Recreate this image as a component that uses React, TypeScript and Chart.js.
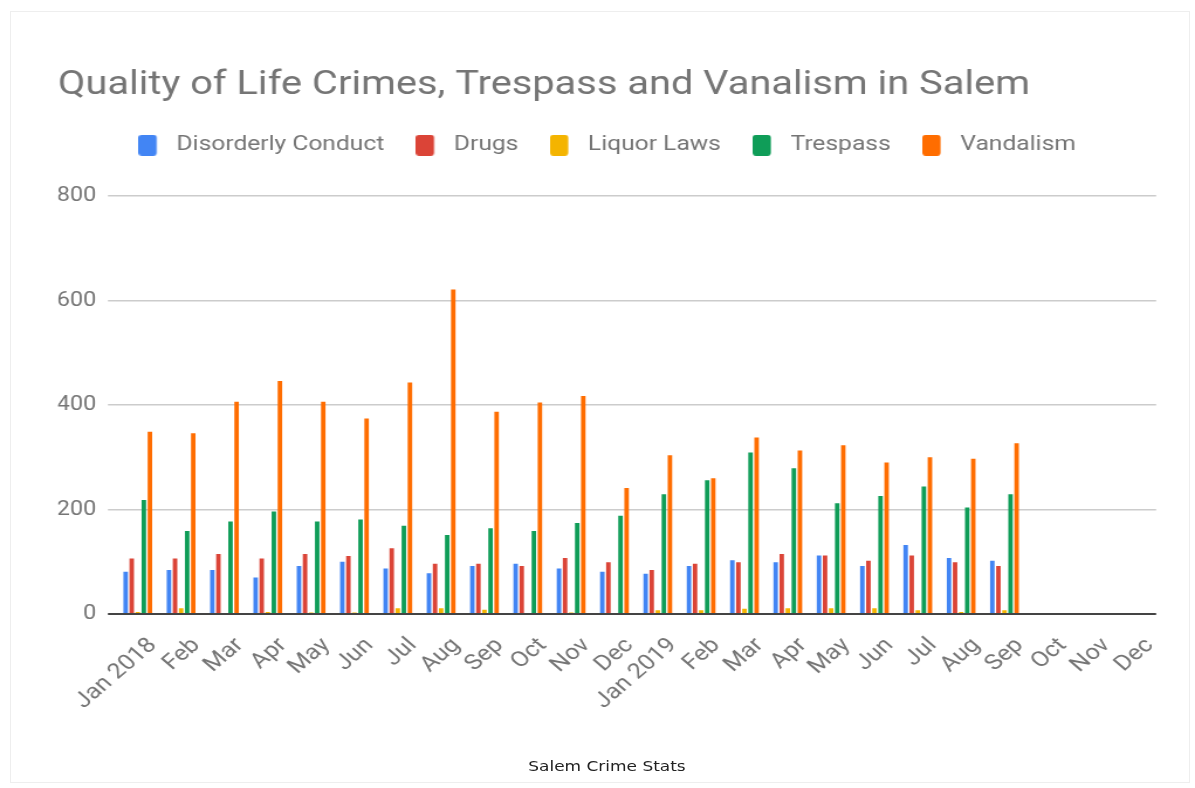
import { useEffect, useRef } from 'react';
import { Chart, registerables } from 'chart.js';

Chart.register(...registerables);

// ---------- data ----------
const categories = [
  'Jan 2018', 'Feb', 'Mar', 'Apr', 'May', 'Jun', 'Jul', 'Aug', 'Sep', 'Oct', 'Nov', 'Dec',
  'Jan 2019', 'Feb', 'Mar', 'Apr', 'May', 'Jun', 'Jul', 'Aug', 'Sep', 'Oct', 'Nov', 'Dec',
];
const disorderlyConduct = [81, 84, 84, 70, 92, 100, 87, 78, 92, 96, 87, 81, 77, 92, 103, 99, 112, 92, 132, 107, 102, null, null, null];
const drugs = [106, 106, 115, 106, 115, 111, 126, 96, 96, 92, 107, 99, 84, 96, 99, 115, 112, 102, 112, 99, 92, null, null, null];
const liquorLaws = [4, 11, 0, 4, 3, 3, 11, 11, 8, 0, 3, 0, 7, 7, 10, 11, 11, 11, 7, 4, 7, null, null, null];
const trespass = [218, 159, 177, 196, 177, 181, 169, 151, 164, 159, 174, 188, 229, 256, 309, 279, 212, 226, 244, 204, 229, null, null, null];
const vandalism = [349, 346, 406, 446, 406, 374, 443, 621, 387, 405, 417, 241, 304, 260, 338, 313, 323, 290, 300, 297, 327, null, null, null];
const seriesNames = ['Disorderly Conduct', 'Drugs', 'Liquor Laws', 'Trespass', 'Vandalism'];
const seriesColors = ['#4285F4', '#DB4437', '#F4B400', '#0F9D58', '#FF6D00'];
const yTickValues = [0, 200, 400, 600, 800];

// ---------- geometry ----------
const W = 1195;
const H = 788;
const SX = 1.17; // the reference is stretched horizontally
const CW = Math.round(W / SX);

function swatch(color: string) {
  const c = document.createElement('canvas');
  c.width = 22;
  c.height = 21;
  const g = c.getContext('2d')!;
  g.fillStyle = color;
  g.beginPath();
  if ((g as any).roundRect) (g as any).roundRect(0, 0, 15.6, 21, 3);
  else g.rect(0, 0, 15.6, 21);
  g.fill();
  return c;
}

export default function App() {
  const ref = useRef<HTMLCanvasElement>(null);

  useEffect(() => {
    const canvas = ref.current;
    if (!canvas) return;
    const seriesData = [disorderlyConduct, drugs, liquorLaws, trespass, vandalism];
    const swatches = seriesColors.map((c) => swatch(c));
    const gray = '#757575';

    const chart = new Chart(canvas, {
      type: 'bar',
      data: {
        labels: categories,
        datasets: seriesNames.map((name, i) => ({
          label: name,
          data: seriesData[i],
          backgroundColor: seriesColors[i],
          borderWidth: 0,
          barPercentage: 0.74,
          categoryPercentage: 0.7,
        })),
      },
      options: {
        responsive: false,
        maintainAspectRatio: false,
        animation: false,
        layout: { padding: { left: 49.6, right: 33.2, top: 0, bottom: 0 } },
        plugins: {
          tooltip: { enabled: false },
          title: {
            display: true,
            text: 'Quality of Life Crimes, Trespass and Vanalism in Salem',
            align: 'start',
            color: gray,
            font: { family: 'Roboto', size: 34, weight: 'normal', lineHeight: 1.1 },
            padding: { top: 66.3, bottom: 4 },
          },
          subtitle: {
            display: true,
            text: '',
            weight: 500,
            font: { size: 10, lineHeight: 1 },
            padding: { top: 20.3, bottom: 0 },
          } as any,
          legend: {
            display: true,
            position: 'top',
            align: 'center',
            labels: {
              usePointStyle: true,
              pointStyleWidth: 22,
              padding: 27,
              color: gray,
              font: { family: 'Roboto', size: 21 },
              generateLabels: (ch: any) =>
                ch.data.datasets.map((ds: any, i: number) => ({
                  text: ds.label,
                  fillStyle: seriesColors[i],
                  strokeStyle: seriesColors[i],
                  lineWidth: 0,
                  hidden: false,
                  datasetIndex: i,
                  pointStyle: swatches[i],
                  fontColor: gray,
                })),
            },
          },
        },
        scales: {
          x: {
            grid: { display: false, drawTicks: false },
            border: { display: false },
            ticks: {
              autoSkip: false,
              maxRotation: 45,
              minRotation: 45,
              padding: 19,
              labelOffset: 13,
              color: gray,
              font: { family: 'Roboto', size: 21.5 },
            },
            afterFit: (scale: any) => {
              scale.height = 174;
            },
          },
          y: {
            min: 0,
            max: 800,
            afterBuildTicks: (scale: any) => {
              scale.ticks = yTickValues.map((v) => ({ value: v }));
            },
            grid: {
              color: (c: any) => (c.tick && c.tick.value === 0 ? '#444444' : '#cccccc'),
              lineWidth: (c: any) => (c.tick && c.tick.value === 0 ? 2 : 1.5),
              drawTicks: true,
              tickLength: 7,
            },
            border: { display: false },
            ticks: {
              padding: 10,
              color: gray,
              font: { family: 'Roboto', size: 20 },
            },
            afterFit: (scale: any) => {
              scale.width = 49.6;
            },
          },
        },
      } as any,
    });
    return () => chart.destroy();
  }, []);

  return (
    <div style={{ position: 'fixed', left: 0, top: 0, width: W, height: H, background: '#ffffff', overflow: 'hidden' }}>
      <canvas
        ref={ref}
        width={CW}
        height={H}
        style={{ position: 'absolute', left: 0, top: 0, width: W + 'px', height: H + 'px' }}
      />
      <div
        style={{
          position: 'absolute', left: 10, top: 11, width: 1180, height: 772,
          border: '1px solid #eeeeee', boxSizing: 'border-box', pointerEvents: 'none',
        }}
      />
      <div
        style={{
          position: 'absolute', left: 0, top: 756, width: 1214, textAlign: 'center',
          fontFamily: '"DejaVu Sans", sans-serif', fontSize: '14.5px', lineHeight: '20px',
          color: '#222222', transform: 'scaleX(1.17)', transformOrigin: '50% 50%',
        }}
      >
        Salem Crime Stats
      </div>
    </div>
  );
}
